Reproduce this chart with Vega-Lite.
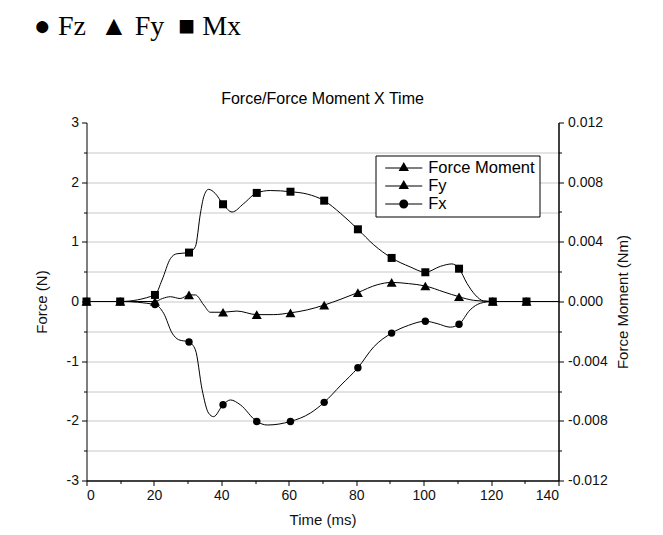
{
  "$schema": "https://vega.github.io/schema/vega-lite/v6.json",
  "background": "white",
  "padding": {"left": 33.5, "top": 12.5, "right": 5, "bottom": 5},
  "config": {
    "font": "Liberation Sans",
    "view": {"stroke": null},
    "axis": {"labelFont": "Liberation Sans", "labelFontSize": 14, "labelColor": "#111", "titleFont": "Liberation Sans", "titleFontSize": 15, "titleFontWeight": "normal", "titleColor": "#111", "domainColor": "black", "tickColor": "black"}
  },
  "title": {"text": "●\u00a0Fz\u00a0\u00a0▲\u00a0Fy\u00a0\u00a0■\u00a0Mx", "anchor": "start", "font": "Liberation Serif", "fontSize": 28, "fontWeight": "normal", "color": "black", "offset": 50, "dx": 0},
  "datasets": {
    "d": [
      {"t": 0, "s": "Fx", "v": 0, "m": 1},
      {"t": 10, "s": "Fx", "v": 0, "m": 1},
      {"t": 20.3, "s": "Fx", "v": -0.05, "m": 1},
      {"t": 22.9, "s": "Fx", "v": -0.2, "m": 0},
      {"t": 25.4, "s": "Fx", "v": -0.53, "m": 0},
      {"t": 27.3, "s": "Fx", "v": -0.64, "m": 0},
      {"t": 30.4, "s": "Fx", "v": -0.68, "m": 1},
      {"t": 32.3, "s": "Fx", "v": -0.81, "m": 0},
      {"t": 34.3, "s": "Fx", "v": -1.48, "m": 0},
      {"t": 36.2, "s": "Fx", "v": -1.87, "m": 0},
      {"t": 37.7, "s": "Fx", "v": -1.93, "m": 0},
      {"t": 40.5, "s": "Fx", "v": -1.73, "m": 1},
      {"t": 42.7, "s": "Fx", "v": -1.65, "m": 0},
      {"t": 45.6, "s": "Fx", "v": -1.73, "m": 0},
      {"t": 50.5, "s": "Fx", "v": -2.01, "m": 1},
      {"t": 53.6, "s": "Fx", "v": -2.07, "m": 0},
      {"t": 60.5, "s": "Fx", "v": -2.01, "m": 1},
      {"t": 66.4, "s": "Fx", "v": -1.87, "m": 0},
      {"t": 70.5, "s": "Fx", "v": -1.69, "m": 1},
      {"t": 75.5, "s": "Fx", "v": -1.4, "m": 0},
      {"t": 80.5, "s": "Fx", "v": -1.11, "m": 1},
      {"t": 85.2, "s": "Fx", "v": -0.76, "m": 0},
      {"t": 90.5, "s": "Fx", "v": -0.53, "m": 1},
      {"t": 95.5, "s": "Fx", "v": -0.4, "m": 0},
      {"t": 100.5, "s": "Fx", "v": -0.33, "m": 1},
      {"t": 104, "s": "Fx", "v": -0.37, "m": 0},
      {"t": 107.9, "s": "Fx", "v": -0.43, "m": 0},
      {"t": 110.5, "s": "Fx", "v": -0.38, "m": 1},
      {"t": 113.8, "s": "Fx", "v": -0.14, "m": 0},
      {"t": 116.8, "s": "Fx", "v": -0.03, "m": 0},
      {"t": 120.5, "s": "Fx", "v": 0, "m": 1},
      {"t": 130.5, "s": "Fx", "v": 0, "m": 1},
      {"t": 140, "s": "Fx", "v": 0, "m": 0},
      {"t": 0, "s": "Fy", "v": 0, "m": 1},
      {"t": 10, "s": "Fy", "v": 0, "m": 1},
      {"t": 20.3, "s": "Fy", "v": 0, "m": 1},
      {"t": 22.5, "s": "Fy", "v": 0.05, "m": 0},
      {"t": 24.9, "s": "Fy", "v": 0.08, "m": 0},
      {"t": 27.8, "s": "Fy", "v": 0.05, "m": 0},
      {"t": 30.4, "s": "Fy", "v": 0.11, "m": 1},
      {"t": 32.3, "s": "Fy", "v": 0.11, "m": 0},
      {"t": 34.8, "s": "Fy", "v": -0.06, "m": 0},
      {"t": 36.7, "s": "Fy", "v": -0.18, "m": 0},
      {"t": 40.5, "s": "Fy", "v": -0.18, "m": 1},
      {"t": 44.6, "s": "Fy", "v": -0.16, "m": 0},
      {"t": 50.5, "s": "Fy", "v": -0.22, "m": 1},
      {"t": 55.5, "s": "Fy", "v": -0.22, "m": 0},
      {"t": 60.5, "s": "Fy", "v": -0.19, "m": 1},
      {"t": 65.5, "s": "Fy", "v": -0.14, "m": 0},
      {"t": 70.5, "s": "Fy", "v": -0.06, "m": 1},
      {"t": 75.5, "s": "Fy", "v": 0.04, "m": 0},
      {"t": 80.5, "s": "Fy", "v": 0.15, "m": 1},
      {"t": 86.2, "s": "Fy", "v": 0.28, "m": 0},
      {"t": 90.5, "s": "Fy", "v": 0.32, "m": 1},
      {"t": 95.5, "s": "Fy", "v": 0.3, "m": 0},
      {"t": 100.5, "s": "Fy", "v": 0.26, "m": 1},
      {"t": 106, "s": "Fy", "v": 0.16, "m": 0},
      {"t": 110.5, "s": "Fy", "v": 0.08, "m": 1},
      {"t": 114.8, "s": "Fy", "v": 0.02, "m": 0},
      {"t": 120.5, "s": "Fy", "v": 0, "m": 1},
      {"t": 130.5, "s": "Fy", "v": 0, "m": 1},
      {"t": 140, "s": "Fy", "v": 0, "m": 0},
      {"t": 0, "s": "Mx", "v": 0, "m": 1},
      {"t": 10, "s": "Mx", "v": 0, "m": 1},
      {"t": 20.3, "s": "Mx", "v": 0.00044, "m": 1},
      {"t": 22.4, "s": "Mx", "v": 0.00144, "m": 0},
      {"t": 24.9, "s": "Mx", "v": 0.00288, "m": 0},
      {"t": 26.8, "s": "Mx", "v": 0.0032, "m": 0},
      {"t": 30.4, "s": "Mx", "v": 0.00328, "m": 1},
      {"t": 32.3, "s": "Mx", "v": 0.00368, "m": 0},
      {"t": 33.8, "s": "Mx", "v": 0.00592, "m": 0},
      {"t": 34.8, "s": "Mx", "v": 0.00704, "m": 0},
      {"t": 36.2, "s": "Mx", "v": 0.00752, "m": 0},
      {"t": 38.2, "s": "Mx", "v": 0.00724, "m": 0},
      {"t": 40.5, "s": "Mx", "v": 0.00652, "m": 1},
      {"t": 43.2, "s": "Mx", "v": 0.006, "m": 0},
      {"t": 46.6, "s": "Mx", "v": 0.00656, "m": 0},
      {"t": 50.5, "s": "Mx", "v": 0.00728, "m": 1},
      {"t": 54.5, "s": "Mx", "v": 0.00744, "m": 0},
      {"t": 60.5, "s": "Mx", "v": 0.00736, "m": 1},
      {"t": 65.5, "s": "Mx", "v": 0.0072, "m": 0},
      {"t": 70.5, "s": "Mx", "v": 0.00676, "m": 1},
      {"t": 75.3, "s": "Mx", "v": 0.00592, "m": 0},
      {"t": 80.5, "s": "Mx", "v": 0.00484, "m": 1},
      {"t": 85.2, "s": "Mx", "v": 0.0038, "m": 0},
      {"t": 90.5, "s": "Mx", "v": 0.00292, "m": 1},
      {"t": 96, "s": "Mx", "v": 0.00232, "m": 0},
      {"t": 100.5, "s": "Mx", "v": 0.00196, "m": 1},
      {"t": 105, "s": "Mx", "v": 0.00236, "m": 0},
      {"t": 108.4, "s": "Mx", "v": 0.00252, "m": 0},
      {"t": 110.5, "s": "Mx", "v": 0.0022, "m": 1},
      {"t": 112.9, "s": "Mx", "v": 0.0012, "m": 0},
      {"t": 115.3, "s": "Mx", "v": 0.00044, "m": 0},
      {"t": 117.8, "s": "Mx", "v": 0.00004, "m": 0},
      {"t": 120.5, "s": "Mx", "v": 0, "m": 1},
      {"t": 130.5, "s": "Mx", "v": 0, "m": 1},
      {"t": 140, "s": "Mx", "v": 0, "m": 0}
    ],
    "leg": [{"label": "Force Moment"}, {"label": "Fy"}, {"label": "Fx"}]
  },
  "vconcat": [
    {
      "width": 472,
      "height": 358,
      "title": {"text": "Force/Force Moment X Time", "font": "Liberation Sans", "fontSize": 16, "fontWeight": "normal", "color": "black", "offset": 9},
      "data": {"name": "d"},
      "encoding": {
        "x": {
          "field": "t", "type": "quantitative",
          "scale": {"domain": [0, 140], "nice": false, "zero": false},
          "axis": {
            "title": "Time (ms)",
            "values": [0, 10, 20, 30, 40, 50, 60, 70, 80, 90, 100, 110, 120, 130, 140],
            "labelExpr": "datum.value % 20 === 0 ? '' + datum.value : ''",
            "grid": false,
            "domainWidth": 1.5,
            "tickSize": {"condition": {"test": "datum.value % 20 === 0", "value": 5}, "value": 3},
            "labelPadding": 3,
            "titlePadding": 10
          }
        }
      },
      "layer": [
        {
          "transform": [{"filter": "datum.s !== 'Mx'"}],
          "encoding": {
            "y": {
              "field": "v", "type": "quantitative",
              "scale": {"domain": [-3, 3], "nice": false, "zero": false},
              "axis": {
                "orient": "left",
                "title": "Force (N)",
                "values": [-3, -2.5, -2, -1.5, -1, -0.5, 0, 0.5, 1, 1.5, 2, 2.5, 3],
                "labelExpr": "datum.value % 1 === 0 ? '' + datum.value : ''",
                "grid": true,
                "gridColor": {"condition": {"test": "abs(datum.value) === 3", "value": "transparent"}, "value": "#c8c8c8"},
                "tickSize": {"condition": {"test": "datum.value % 1 === 0", "value": 5}, "value": 3},
                "labelPadding": 3,
                "titlePadding": 17
              }
            }
          },
          "layer": [
            {"mark": {"type": "line", "interpolate": "monotone", "color": "black", "strokeWidth": 1}, "encoding": {"detail": {"field": "s"}}},
            {"transform": [{"filter": "datum.m === 1 && datum.s === 'Fx'"}], "mark": {"type": "point", "shape": "circle", "filled": true, "color": "black", "size": 55, "opacity": 1}},
            {"transform": [{"filter": "datum.m === 1 && datum.s === 'Fy'"}], "mark": {"type": "point", "shape": "triangle-up", "filled": true, "color": "black", "size": 100, "opacity": 1}}
          ]
        },
        {
          "transform": [{"filter": "datum.s === 'Mx'"}],
          "encoding": {
            "y": {
              "field": "v", "type": "quantitative",
              "scale": {"domain": [-0.012, 0.012], "nice": false, "zero": false},
              "axis": {
                "orient": "right",
                "title": "Force Moment (Nm)",
                "titleAngle": 270,
                "titleBaseline": "top",
                "values": [-0.012, -0.01, -0.008, -0.006, -0.004, -0.002, 0, 0.002, 0.004, 0.006, 0.008, 0.01, 0.012],
                "labelExpr": "round(datum.value * 1000) % 4 === 0 ? replace(format(datum.value, '.3f'), '\u2212', '-') : ''",
                "grid": false,
                "domainWidth": 1.5,
                "tickSize": {"condition": {"test": "round(datum.value * 1000) % 4 === 0", "value": 5}, "value": 3},
                "labelPadding": 4,
                "titlePadding": 8
              }
            }
          },
          "layer": [
            {"mark": {"type": "line", "interpolate": "monotone", "color": "black", "strokeWidth": 1}},
            {"transform": [{"filter": "datum.m === 1"}], "mark": {"type": "point", "shape": "square", "filled": true, "color": "black", "size": 64, "opacity": 1}}
          ]
        },
        {
          "data": {"name": "leg"},
          "mark": {"type": "point", "filled": false, "color": "black", "fill": "black", "strokeWidth": 1, "opacity": 0},
          "encoding": {
            "shape": {
              "field": "label", "type": "nominal",
              "scale": {"domain": ["Force Moment", "Fy", "Fx"], "range": ["M-2.18,-0.06H2.18V0.06H-2.18ZM0,-0.71L0.61,0.35L-0.61,0.35Z", "M-2.18,-0.06H2.18V0.06H-2.18ZM0,-0.71L0.61,0.35L-0.61,0.35Z", "M-2.18,-0.06H2.18V0.06H-2.18ZM0.53,0A0.53,0.53,0,1,1,-0.53,0A0.53,0.53,0,1,1,0.53,0Z"]},
              "legend": {
                "title": null,
                "orient": "none",
                "legendX": 289,
                "legendY": 33,
                "strokeColor": "black",
                "fillColor": "white",
                "padding": 4,
                "labelFont": "Liberation Sans",
                "labelFontSize": 16.5,
                "labelColor": "black",
                "labelLimit": 0,
                "labelOffset": 16,
                "symbolOffset": 15.75,
                "symbolSize": 289,
                "symbolOpacity": 1,
                "symbolFillColor": "black",
                "symbolStrokeColor": "black",
                "symbolStrokeWidth": 0,
                "rowPadding": 1
              }
            }
          }
        }
      ],
      "resolve": {"scale": {"y": "independent"}, "axis": {"y": "independent"}}
    }
  ]
}
